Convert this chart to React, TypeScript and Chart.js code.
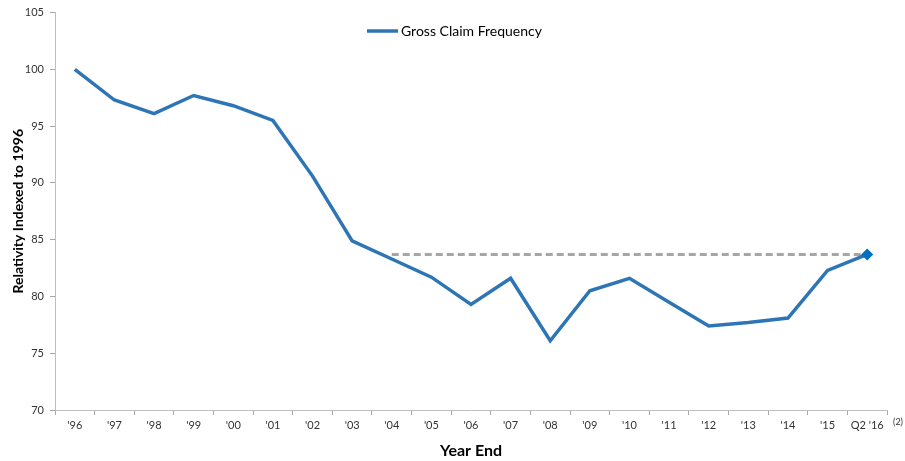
import React, { useEffect, useRef } from "react";
import { Chart, registerables } from "chart.js";

Chart.register(...registerables);

const categories = ["'96", "'97", "'98", "'99", "'00", "'01", "'02", "'03", "'04", "'05", "'06", "'07", "'08", "'09", "'10", "'11", "'12", "'13", "'14", "'15", "Q2 '16"];
const grossClaimFrequency = [100, 97.3, 96.1, 97.7, 96.8, 95.5, 90.6, 84.9, 83.3, 81.7, 79.3, 81.6, 76.1, 80.5, 81.6, 79.5, 77.4, 77.7, 78.1, 82.3, 83.7];
const currentLevel = [null, null, null, null, null, null, null, null, 83.7, 83.7, 83.7, 83.7, 83.7, 83.7, 83.7, 83.7, 83.7, 83.7, 83.7, 83.7, 83.7];
const yTicks = [70, 75, 80, 85, 90, 95, 100, 105];
const legendLabel = "Gross Claim Frequency";
const yTitle = "Relativity Indexed to 1996";
const xTitle = "Year End";
const footnote = "(2)";

const BLUE = "#2E75B6";
const FONT = "Lato, 'DejaVu Sans', sans-serif";

export default function App() {
  const ref = useRef<HTMLCanvasElement | null>(null);
  useEffect(() => {
    if (!ref.current) return;
    const overlay = {
      id: "overlay",
      afterDraw(chart: any) {
        const ctx = chart.ctx;
        ctx.save();
        ctx.strokeStyle = BLUE;
        ctx.lineWidth = 3.5;
        ctx.beginPath();
        ctx.moveTo(367, 31);
        ctx.lineTo(398, 31);
        ctx.stroke();
        ctx.fillStyle = "#000";
        ctx.font = `14px ${FONT}`;
        ctx.textBaseline = "middle";
        ctx.textAlign = "left";
        ctx.fillText(legendLabel, 401, 31);
        ctx.font = `9px ${FONT}`;
        ctx.fillStyle = "#333";
        ctx.fillText(footnote, chart.chartArea.right + 6, 422);
        ctx.restore();
      },
    };
    const chart = new Chart(ref.current, {
      type: "line",
      data: {
        labels: categories,
        datasets: [
          {
            label: legendLabel,
            data: grossClaimFrequency,
            borderColor: BLUE,
            backgroundColor: "#0070C0",
            borderWidth: 3.5,
            tension: 0,
            pointStyle: "rectRot",
            pointRadius: (c: any) => (c.dataIndex === grossClaimFrequency.length - 1 ? 6 : 0),
            pointBorderWidth: 0,
            order: 0,
          },
          {
            label: "level",
            data: currentLevel,
            borderColor: "#A6A6A6",
            borderWidth: 3,
            borderDash: [7, 4],
            pointRadius: 0,
            order: 1,
          },
        ],
      },
      options: {
        animation: false,
        responsive: false,
        layout: { padding: { top: 12, right: 18, left: 0, bottom: 0 }, autoPadding: false },
        plugins: { legend: { display: false }, tooltip: { enabled: false } },
        scales: {
          x: {
            type: "category",
            offset: true,
            grid: { display: true, drawOnChartArea: false, drawTicks: true, tickLength: 5, color: "#A6A6A6", offset: true },
            border: { display: true, color: "#BFBFBF", width: 1 },
            ticks: { color: "#333", font: { family: FONT, size: 11 }, padding: 4, maxRotation: 0, autoSkip: false },
            title: { display: true, text: xTitle, color: "#000", font: { family: FONT, size: 16, weight: "bold" }, padding: { top: 0, bottom: 1 } },
            afterFit: (s: any) => { s.height = 51; },
          },
          y: {
            min: 70,
            max: 105,
            afterBuildTicks: (s: any) => { s.ticks = yTicks.map((v) => ({ value: v })); },
            grid: { display: true, drawOnChartArea: false, drawTicks: true, tickLength: 5, color: "#A6A6A6" },
            border: { display: true, color: "#BFBFBF", width: 1 },
            ticks: { color: "#333", font: { family: FONT, size: 11 }, padding: 6 },
            title: { display: true, text: yTitle, color: "#000", font: { family: FONT, size: 14, weight: "bold" }, padding: { top: 10, bottom: 0 } },
            afterFit: (s: any) => { s.width = 55; },
          },
        },
      },
      plugins: [overlay],
    } as any);
    return () => chart.destroy();
  }, []);
  return (
    <div style={{ position: "fixed", left: 0, top: 0, width: 905, height: 461, background: "#fff" }}>
      <canvas ref={ref} width={905} height={461} style={{ display: "block" }} />
    </div>
  );
}
